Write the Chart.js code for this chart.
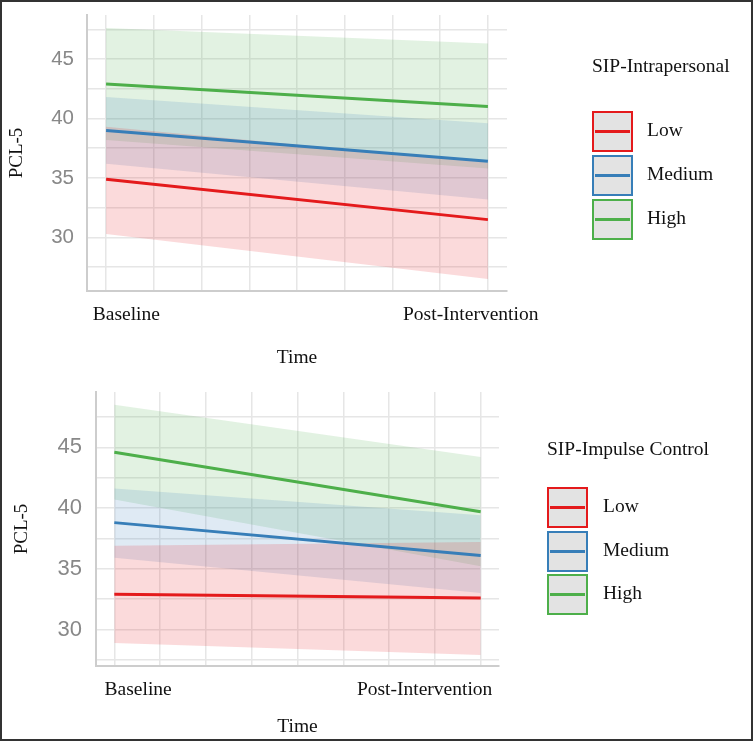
<!DOCTYPE html>
<html>
<head>
<meta charset="utf-8">
<title>PCL-5 by SIP level</title>
<script src="https://cdn.jsdelivr.net/npm/chart.js@4.4.1/dist/chart.umd.min.js"></script>
<style>
  html, body { margin: 0; padding: 0; background: #fff; }
  #page { position: relative; width: 753px; height: 741px; overflow: hidden; background: #fff; }
  #frame { position: absolute; left: 0; top: 0; width: 753px; height: 741px; box-sizing: border-box;
           border: 2px solid #333; pointer-events: none; z-index: 5; }
  canvas { position: absolute; left: 0; }
  .legend { position: absolute; font-family: "Liberation Serif", "Times New Roman", serif; color: #111; font-size: 19.5px; }
  .legend-title { position: absolute; left: 0; top: 0; white-space: nowrap; line-height: 22px; }
  .legend-key { position: absolute; left: 0; width: 41px; height: 41px; box-sizing: border-box;
                border: 2px solid; background: #e3e3e3; }
  .legend-key span { position: absolute; left: 1px; right: 1px; top: 17px; height: 3px; }
  .legend-label { position: absolute; white-space: nowrap; line-height: 41px; }
</style>
</head>
<body>
<div id="page">
  <canvas id="intra" width="753" height="372" style="top:0"></canvas>
  <canvas id="impulse" width="753" height="369" style="top:372px"></canvas>
  <div id="intra-legend" class="legend"></div>
  <div id="impulse-legend" class="legend"></div>
  <div id="frame"></div>
</div>
<script>
/* global Chart */

var timePoints = [0, 1];
var timeLabels = ["Baseline", "Post-Intervention"];
var groupNames = ["Low", "Medium", "High"];
var groupColors = ["#E41A1C", "#377EB8", "#4DAF4A"];
var groupFills = ["rgba(228, 26, 28, 0.16)", "rgba(55, 126, 184, 0.16)", "rgba(77, 175, 74, 0.16)"];

// SIP-Intrapersonal: fitted PCL-5 and its band, per group (Low, Medium, High)
var intraMean  = [[34.9, 31.5], [39.0, 36.4], [42.9, 41.0]];
var intraLower = [[30.3, 26.5], [36.2, 33.2], [38.2, 35.8]];
var intraUpper = [[39.3, 36.3], [41.8, 39.6], [47.6, 46.3]];

// SIP-Impulse Control
var impulseMean  = [[32.9, 32.6], [38.8, 36.1], [44.6, 39.7]];
var impulseLower = [[28.9, 27.9], [35.9, 33.0], [40.7, 35.2]];
var impulseUpper = [[36.9, 37.2], [41.6, 39.4], [48.5, 44.2]];

function toPoints(values) {
  return values.map(function(v, i) { return { x: timePoints[i], y: v }; });
}

function buildDatasets(mean, lower, upper) {
  var sets = [];
  // lines first so they sit on top of the ribbons
  groupNames.forEach(function(name, g) {
    sets.push({
      label: name,
      data: toPoints(mean[g]),
      borderColor: groupColors[g],
      borderWidth: 3,
      pointRadius: 0,
      fill: false
    });
  });
  groupNames.forEach(function(name, g) {
    sets.push({ label: name + " lower", data: toPoints(lower[g]), borderWidth: 0, pointRadius: 0, fill: false });
    sets.push({ label: name + " upper", data: toPoints(upper[g]), borderWidth: 0, pointRadius: 0,
                fill: "-1", backgroundColor: groupFills[g] });
  });
  return sets;
}

function makeChart(id, mean, lower, upper, cfg) {
  var serif = "'Liberation Serif', 'Times New Roman', serif";
  return new Chart(document.getElementById(id).getContext("2d"), {
    type: "line",
    data: { datasets: buildDatasets(mean, lower, upper) },
    options: {
      responsive: false,
      animation: false,
      layout: { padding: { top: cfg.padTop, right: cfg.padRight, left: 0, bottom: 0 } },
      plugins: {
        legend: { display: false },
        tooltip: { enabled: false },
        filler: { drawTime: "beforeDatasetsDraw" }
      },
      elements: { line: { tension: 0 } },
      scales: {
        y: {
          type: "linear",
          min: cfg.yMin,
          max: cfg.yMax,
          afterFit: function(axis) { axis.width = cfg.axisWidth; },
          // invisible tick marks give the label gap without padding the plot top
          grid: { color: "#e6e6e6", lineWidth: 1.5, drawTicks: true, tickLength: cfg.yTickPad, tickColor: "rgba(0,0,0,0)" },
          border: { color: "#cdcdcd", width: 2 },
          ticks: {
            stepSize: 2.5,
            includeBounds: false,
            padding: 0,
            color: "#888888",
            font: { family: "'Liberation Sans', Arial, sans-serif", size: cfg.yTickSize },
            callback: function(v) { return v % 5 === 0 ? String(v) : ""; }
          },
          title: {
            display: true,
            text: "PCL-5",
            color: "#111",
            font: { family: serif, size: 19 },
            padding: { top: cfg.yTitlePad, bottom: 0 }
          }
        },
        x: {
          type: "linear",
          min: -0.05,
          max: 1.05,
          grid: { color: "#e6e6e6", lineWidth: 1.5, drawTicks: false },
          border: { color: "#cdcdcd", width: 2 },
          ticks: { display: false, stepSize: 0.125, includeBounds: false }
        },
        x2: {
          type: "linear",
          position: "bottom",
          min: -0.05,
          max: 1.05,
          grid: { display: false, drawTicks: false },
          border: { display: false },
          afterBuildTicks: function(axis) {
            axis.ticks = cfg.labelAt.map(function(v) { return { value: v }; });
          },
          afterFit: function(axis) { axis.height = cfg.xAxisHeight; },
          ticks: {
            autoSkip: false,
            maxRotation: 0,
            padding: 12,
            color: "#111",
            font: { family: serif, size: 19.5 },
            callback: function(v, i) { return timeLabels[i]; }
          },
          title: {
            display: true,
            text: "Time",
            color: "#111",
            font: { family: serif, size: 19.5 },
            padding: { top: 0, bottom: 2 }
          }
        }
      }
    }
  });
}

function buildLegend(id, title, pos) {
  var box = document.getElementById(id);
  box.style.left = pos.left + "px";
  box.style.top = pos.top + "px";
  var head = document.createElement("div");
  head.className = "legend-title";
  head.textContent = title;
  box.appendChild(head);
  groupNames.forEach(function(name, g) {
    var top = pos.keysTop + g * pos.pitch;
    var key = document.createElement("div");
    key.className = "legend-key";
    key.style.top = top + "px";
    key.style.borderColor = groupColors[g];
    var bar = document.createElement("span");
    bar.style.background = groupColors[g];
    key.appendChild(bar);
    box.appendChild(key);
    var lab = document.createElement("div");
    lab.className = "legend-label";
    lab.style.left = pos.labelLeft + "px";
    lab.style.top = (top - 2) + "px";
    lab.textContent = name;
    box.appendChild(lab);
  });
}

makeChart("intra", intraMean, intraLower, intraUpper, {
  padTop: 15, padRight: 246, yMin: 25.5, yMax: 48.7, axisWidth: 87,
  yTickPad: 13, yTickSize: 20.5, yTitlePad: 6, xAxisHeight: 81, labelAt: [0.053, 0.955]
});

makeChart("impulse", impulseMean, impulseLower, impulseUpper, {
  padTop: 20, padRight: 254, yMin: 27.0, yMax: 49.55, axisWidth: 96,
  yTickPad: 14, yTickSize: 22, yTitlePad: 11, xAxisHeight: 75, labelAt: [0.065, 0.847]
});

buildLegend("intra-legend", "SIP-Intrapersonal", { left: 592, top: 55, keysTop: 56, pitch: 44, labelLeft: 55 });
buildLegend("impulse-legend", "SIP-Impulse Control", { left: 547, top: 438, keysTop: 49, pitch: 43.7, labelLeft: 56 });
</script>
</body>
</html>
